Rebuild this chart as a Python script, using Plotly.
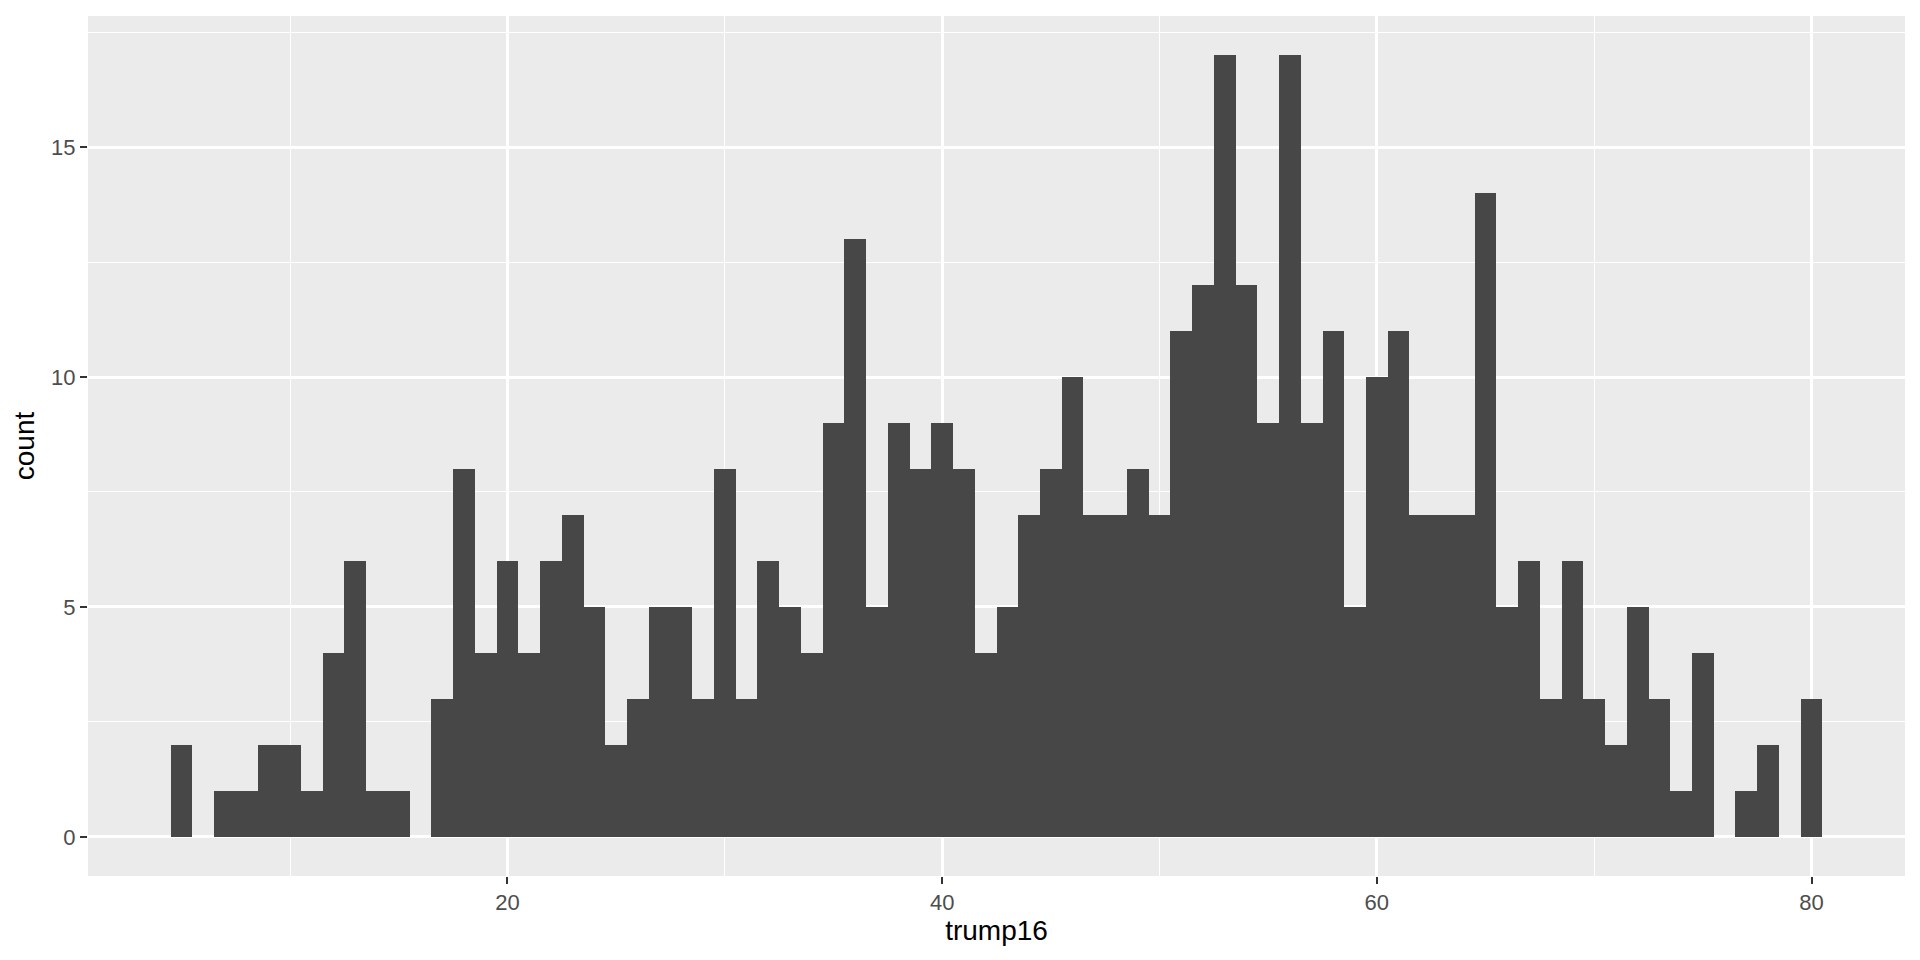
import plotly.graph_objects as go

# Histogram of trump16 (binwidth 1, bins centred on integers)
bin_centers = list(range(5, 81))
counts = [2, 0, 1, 1, 2, 2, 1, 4, 6, 1,      # 5-14
          1, 0, 3, 8, 4, 6, 4, 6, 7, 5,      # 15-24
          2, 3, 5, 5, 3, 8, 3, 6, 5, 4,      # 25-34
          9, 13, 5, 9, 8, 9, 8, 4, 5, 7,     # 35-44
          8, 10, 7, 7, 8, 7, 11, 12, 17, 12, # 45-54
          9, 17, 9, 11, 5, 10, 11, 7, 7, 7,  # 55-64
          14, 5, 6, 3, 6, 3, 2, 5, 3, 1,     # 65-74
          4, 0, 1, 2, 0, 3]                  # 75-80
x_ticks = [20, 40, 60, 80]
x_minor = [10, 30, 50, 70]
y_ticks = [0, 5, 10, 15]
y_minor = [2.5, 7.5, 12.5, 17.5]
x_label = "trump16"
y_label = "count"

FONT = "Liberation Sans, Arial, sans-serif"

fig = go.Figure(go.Bar(
    x=bin_centers, y=counts, width=1,
    marker=dict(color="#474747", line=dict(width=0)),
    hovertemplate="%{x}: %{y}<extra></extra>",
))

axis_common = dict(
    showline=False, zeroline=False, automargin=False,
    gridcolor="white", gridwidth=2.6,
    ticks="outside", ticklen=7, tickwidth=2.2, tickcolor="#333333",
    tickfont=dict(family=FONT, size=22, color="#4d4d4d"),
)

# page body has an 8px default margin, so the figure is 8px smaller and left/top margins offset
fig.update_layout(
    width=1912, height=952,
    margin=dict(l=80, r=15, t=8, b=84),
    paper_bgcolor="white", plot_bgcolor="#ebebeb",
    bargap=0, showlegend=False,
    font=dict(family=FONT),
    xaxis=dict(
        range=[0.7, 84.3], tickvals=x_ticks, ticktext=[str(v) for v in x_ticks],
        minor=dict(tickvals=x_minor, showgrid=True, gridcolor="white", gridwidth=1.3, ticks=""),
        title=dict(text=x_label, font=dict(family=FONT, size=28, color="black"), standoff=4),
        **axis_common,
    ),
    yaxis=dict(
        range=[-0.85, 17.85], tickvals=y_ticks, ticktext=[str(v) for v in y_ticks],
        minor=dict(tickvals=y_minor, showgrid=True, gridcolor="white", gridwidth=1.3, ticks=""),
        title=dict(text=y_label, font=dict(family=FONT, size=28, color="black"), standoff=8),
        **axis_common,
    ),
)

fig.write_html("out.html")
